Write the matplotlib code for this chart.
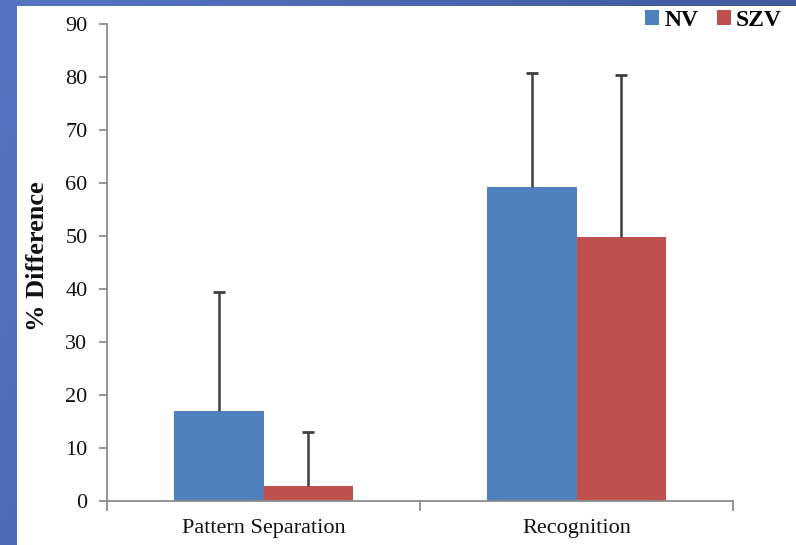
import numpy as np
import matplotlib
matplotlib.use("Agg")
import matplotlib.pyplot as plt
from matplotlib.patches import Rectangle

# Data
categories = ["Pattern Separation", "Recognition"]
series_names = ["NV", "SZV"]
nv_values = [17.0, 59.3]
szv_values = [2.9, 49.9]
nv_errors = [22.4, 21.4]
szv_errors = [10.2, 30.5]
y_ticks = [0, 10, 20, 30, 40, 50, 60, 70, 80, 90]

colors = ["#4F81BD", "#C0504D"]
W, H = 796, 545

fig = plt.figure(figsize=(W / 100, H / 100), dpi=100)

# Slide-style blue gradient backdrop with a white panel on top
bg = fig.add_axes([0, 0, 1, 1], zorder=-10)
gx = np.linspace(0, 1, 256)
gy = np.linspace(0, 1, 256)
GX, GY = np.meshgrid(gx, gy)
c0 = np.array([0x55, 0x75, 0xC4]) / 255
c1 = np.array([0x3A, 0x50, 0x92]) / 255
t = np.clip(0.75 * GX + 0.25 * GY, 0, 1)[..., None]
img = c0 * (1 - t) + c1 * t
bg.imshow(img, extent=[0, 1, 0, 1], aspect="auto", origin="upper")
bg.add_patch(Rectangle((17 / W, 0), 1 - 17 / W, 1 - 6 / H, facecolor="white",
                       edgecolor="none"))
bg.set_xlim(0, 1)
bg.set_ylim(0, 1)
bg.axis("off")

ax = fig.add_axes([107 / W, (H - 501) / H, (733 - 107) / W, (501 - 24) / H])
ax.patch.set_alpha(0)

x = np.arange(len(categories))
bw = 0.285
b1 = ax.bar(x - bw / 2, nv_values, bw, color=colors[0], label=series_names[0], zorder=2)
b2 = ax.bar(x + bw / 2, szv_values, bw, color=colors[1], label=series_names[1], zorder=2)

# Upper-only error bars with a cap at the top end
ecol = "#3F3F3F"
for xs, vals, errs in [(x - bw / 2, nv_values, nv_errors),
                       (x + bw / 2, szv_values, szv_errors)]:
    vals = np.asarray(vals)
    tops = vals + np.asarray(errs)
    ax.vlines(xs, vals, tops, colors=ecol, linewidth=1.8, zorder=3)
    ax.plot(xs, tops, linestyle="none", marker="_", markersize=8,
            markeredgewidth=2.0, color=ecol, zorder=3)

ax.set_xlim(-0.5, len(categories) - 0.5)
ax.set_ylim(0, 90)
ax.set_yticks(y_ticks)
ax.set_xticks(x)
ax.set_xticklabels(categories)
ax.set_xticks([-0.5, 0.5, 1.5], minor=True)

serif = ["Liberation Serif", "DejaVu Serif"]
for lbl in ax.get_yticklabels() + ax.get_xticklabels():
    lbl.set_fontfamily(serif)
    lbl.set_fontsize(16)
    lbl.set_color("#111111")

ax.tick_params(axis="y", direction="out", length=6, width=1.3, color="#8C8C8C", pad=8)
ax.tick_params(axis="x", which="major", length=0, pad=13)
ax.tick_params(axis="x", which="minor", direction="out", length=7, width=1.3,
               color="#8C8C8C")

for s in ["top", "right"]:
    ax.spines[s].set_visible(False)
for s in ["left", "bottom"]:
    ax.spines[s].set_color("#8C8C8C")
    ax.spines[s].set_linewidth(1.3)

fig.text(38 / W, 1 - 256 / H, "% Difference", rotation=90, ha="center", va="center",
         fontfamily=serif, fontweight="bold", fontsize=19, color="#111111")

leg = fig.legend(handles=[b1, b2], labels=series_names, loc="upper right",
                 bbox_to_anchor=(796 / W, 1 + 4 / H), ncol=2, frameon=False,
                 handlelength=0.6, handleheight=0.6, handletextpad=0.2,
                 columnspacing=0.8, borderaxespad=0.2,
                 prop=dict(family=serif, weight="bold", size=17))

fig.savefig("out.png", dpi=100)
